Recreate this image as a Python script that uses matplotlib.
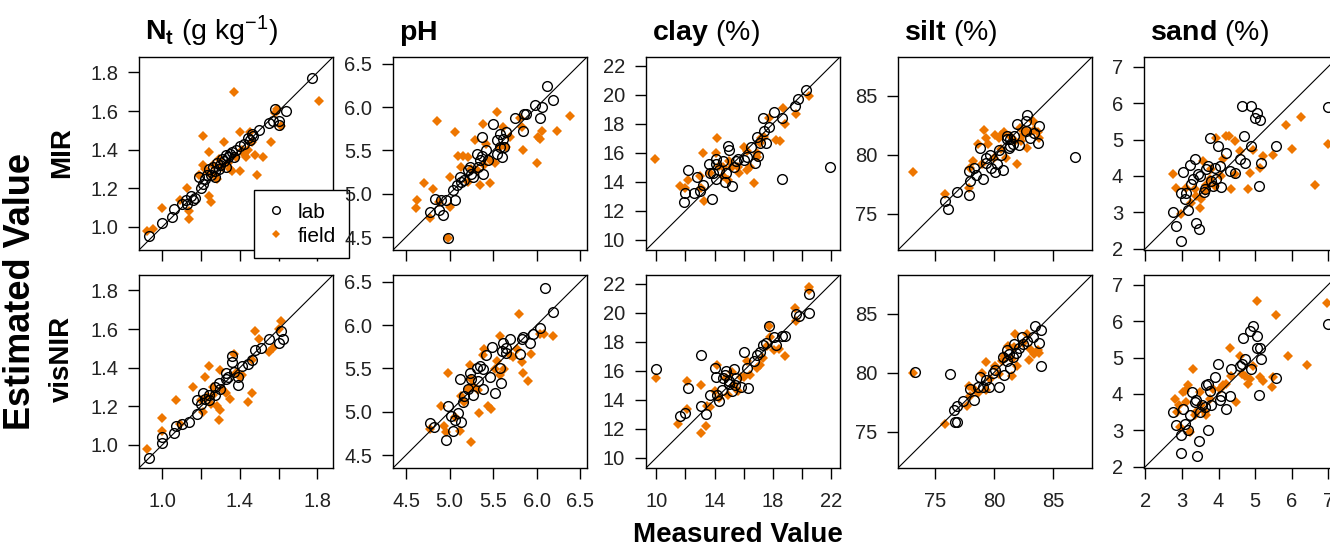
import matplotlib
matplotlib.use("Agg")
import matplotlib.pyplot as plt
from matplotlib.lines import Line2D

plt.rcParams['font.family'] = ['Liberation Sans', 'DejaVu Sans']
plt.rcParams['mathtext.fontset'] = 'custom'
plt.rcParams['mathtext.rm'] = 'Liberation Sans'
plt.rcParams['mathtext.bf'] = 'Liberation Sans:bold'
plt.rcParams['mathtext.it'] = 'Liberation Sans:italic'

ORANGE = '#EE7600'

# ---- data: (measured, estimated) ----
# Nt (g/kg)
nt_mir_lab = [(0.93, 0.95), (1.00, 1.02), (1.05, 1.05), (1.06, 1.09), (1.10, 1.12), (1.12, 1.14),
              (1.13, 1.12), (1.15, 1.16), (1.16, 1.14), (1.17, 1.15), (1.19, 1.26), (1.20, 1.20),
              (1.21, 1.22), (1.22, 1.25), (1.23, 1.27), (1.24, 1.30), (1.25, 1.27), (1.26, 1.31),
              (1.27, 1.29), (1.28, 1.33), (1.29, 1.30), (1.30, 1.32), (1.31, 1.35), (1.32, 1.34),
              (1.33, 1.37), (1.34, 1.36), (1.35, 1.38), (1.36, 1.39), (1.37, 1.36), (1.38, 1.40),
              (1.40, 1.42), (1.42, 1.43), (1.44, 1.46), (1.45, 1.45), (1.46, 1.48), (1.47, 1.47),
              (1.50, 1.50), (1.55, 1.54), (1.57, 1.55), (1.58, 1.61), (1.60, 1.53), (1.60, 1.55),
              (1.64, 1.60), (1.77, 1.77), (1.27, 1.26), (1.33, 1.31)]
nt_mir_field = [(0.92, 0.98), (0.95, 0.99), (1.00, 1.10), (1.09, 1.14), (1.13, 1.20), (1.14, 1.08),
                (1.14, 1.04), (1.21, 1.47), (1.19, 1.27), (1.24, 1.16), (1.25, 1.13), (1.24, 1.39),
                (1.26, 1.32), (1.28, 1.25), (1.29, 1.35), (1.32, 1.44), (1.35, 1.30), (1.37, 1.70),
                (1.36, 1.29), (1.40, 1.29), (1.41, 1.40), (1.40, 1.49), (1.43, 1.36), (1.44, 1.40),
                (1.46, 1.44), (1.48, 1.37), (1.49, 1.27), (1.52, 1.36), (1.56, 1.44), (1.58, 1.59),
                (1.59, 1.61), (1.61, 1.52), (1.81, 1.65), (1.45, 1.49), (1.24, 1.28), (1.21, 1.32),
                (1.31, 1.31), (1.38, 1.36), (1.27, 1.27), (1.22, 1.30), (1.34, 1.33), (1.42, 1.38)]
nt_vis_lab = [(0.93, 0.93), (1.00, 1.01), (1.00, 1.04), (1.06, 1.06), (1.07, 1.10), (1.10, 1.11),
              (1.14, 1.12), (1.18, 1.16), (1.18, 1.23), (1.20, 1.21), (1.21, 1.27), (1.22, 1.24),
              (1.24, 1.26), (1.27, 1.30), (1.29, 1.32), (1.30, 1.29), (1.33, 1.37), (1.34, 1.35),
              (1.36, 1.46), (1.36, 1.43), (1.37, 1.38), (1.39, 1.31), (1.39, 1.35), (1.41, 1.41),
              (1.44, 1.42), (1.46, 1.44), (1.48, 1.49), (1.51, 1.50), (1.55, 1.55), (1.61, 1.59),
              (1.60, 1.53), (1.62, 1.55), (1.24, 1.23), (1.27, 1.26), (1.33, 1.34)]
nt_vis_field = [(0.92, 0.98), (1.00, 1.14), (1.00, 1.07), (1.07, 1.23), (1.09, 1.11), (1.16, 1.30),
                (1.20, 1.23), (1.21, 1.17), (1.22, 1.35), (1.24, 1.41), (1.26, 1.30), (1.28, 1.20),
                (1.29, 1.13), (1.30, 1.18), (1.30, 1.39), (1.33, 1.27), (1.35, 1.24), (1.37, 1.47),
                (1.38, 1.37), (1.40, 1.35), (1.41, 1.36), (1.44, 1.22), (1.46, 1.27), (1.46, 1.44),
                (1.48, 1.59), (1.50, 1.55), (1.55, 1.48), (1.57, 1.50), (1.61, 1.64), (1.60, 1.60),
                (1.23, 1.25), (1.26, 1.26), (1.31, 1.29), (1.25, 1.21)]
# pH
ph_mir_lab = [(4.78, 4.79), (4.83, 4.94), (4.90, 4.93), (4.92, 4.75), (4.88, 4.81), (4.96, 4.93),
              (5.06, 4.93), (4.98, 4.49), (5.08, 5.10), (5.12, 5.19), (5.13, 5.14), (5.17, 5.16),
              (5.21, 5.27), (5.25, 5.23), (5.31, 5.46), (5.33, 5.31), (5.35, 5.39), (5.37, 5.44),
              (5.38, 5.23), (5.42, 5.50), (5.37, 5.65), (5.50, 5.81), (5.54, 5.62), (5.58, 5.69),
              (5.62, 5.63), (5.63, 5.54), (5.65, 5.71), (5.60, 5.42), (5.75, 5.87), (5.85, 5.73),
              (5.88, 5.92), (5.98, 6.02), (6.06, 6.00), (6.04, 5.88), (6.12, 6.25), (6.19, 6.08),
              (5.86, 5.92), (5.58, 5.54), (5.54, 5.46), (5.44, 5.39), (5.27, 5.19), (5.23, 5.31),
              (5.04, 5.04)]
ph_mir_field = [(4.71, 5.12), (4.63, 4.93), (4.61, 4.83), (4.77, 4.72), (4.81, 5.06), (4.86, 5.84),
                (4.88, 4.91), (5.00, 4.85), (5.00, 5.19), (5.06, 5.71), (5.10, 5.44), (5.13, 5.31),
                (5.15, 5.44), (5.21, 5.14), (5.25, 5.29), (5.29, 5.62), (5.35, 5.10), (5.38, 5.81),
                (5.42, 5.58), (5.46, 5.12), (5.46, 5.39), (5.52, 5.35), (5.54, 5.94), (5.58, 5.54),
                (5.62, 5.77), (5.65, 5.54), (5.69, 5.65), (5.81, 5.88), (5.83, 5.77), (5.85, 5.50),
                (6.00, 5.35), (6.02, 5.65), (6.04, 5.63), (6.06, 5.73), (6.23, 5.73), (6.39, 5.90),
                (5.21, 5.42), (4.98, 4.49), (5.31, 5.27), (5.40, 5.33)]
ph_vis_lab = [(4.78, 4.87), (4.82, 4.82), (4.96, 4.67), (4.98, 5.07), (5.02, 4.95), (5.04, 4.78),
              (5.06, 4.90), (5.10, 4.98), (5.12, 5.38), (5.13, 4.88), (5.15, 5.11), (5.17, 5.18),
              (5.21, 5.26), (5.23, 5.45), (5.25, 5.38), (5.27, 5.19), (5.31, 5.51), (5.35, 5.53),
              (5.38, 5.49), (5.42, 5.65), (5.46, 5.40), (5.49, 5.75), (5.52, 5.22), (5.58, 5.51),
              (5.59, 5.33), (5.60, 5.70), (5.62, 5.80), (5.65, 5.74), (5.69, 5.84), (5.83, 5.84),
              (5.84, 5.86), (5.92, 5.80), (5.96, 5.90), (6.04, 5.97), (6.10, 6.43), (6.19, 6.15),
              (5.81, 5.67), (5.65, 5.68), (5.38, 5.26), (5.33, 5.36)]
ph_vis_field = [(4.77, 4.80), (4.90, 5.07), (4.94, 4.84), (4.98, 5.45), (4.96, 4.77), (5.06, 4.94),
                (5.12, 4.78), (5.13, 5.18), (5.17, 5.11), (5.23, 5.54), (5.25, 5.38), (5.27, 5.30),
                (5.33, 5.25), (5.34, 4.99), (5.25, 4.65), (5.38, 5.65), (5.40, 5.72), (5.44, 5.07),
                (5.48, 5.03), (5.54, 5.59), (5.58, 5.88), (5.58, 5.43), (5.63, 5.49), (5.69, 5.66),
                (5.73, 5.63), (5.77, 5.72), (5.80, 6.13), (5.83, 5.57), (5.85, 5.45), (5.90, 5.36),
                (5.94, 5.67), (6.04, 5.90), (6.09, 5.90), (6.19, 5.87), (5.52, 5.49), (5.21, 5.26)]
# clay (%)
clay_mir_lab = [(11.9, 12.6), (12.0, 13.2), (12.2, 14.8), (12.6, 13.2), (12.8, 14.3), (13.0, 13.4),
                (13.2, 13.8), (13.6, 15.2), (13.7, 14.6), (13.8, 12.8), (13.9, 14.6), (14.1, 15.2),
                (14.3, 14.8), (14.6, 15.4), (14.7, 14.0), (14.9, 16.5), (15.0, 16.2), (15.2, 13.7),
                (15.3, 15.0), (15.5, 15.4), (15.6, 15.6), (16.0, 15.5), (16.2, 15.7), (16.5, 16.4),
                (16.8, 15.3), (16.9, 17.1), (17.0, 15.8), (17.1, 16.7), (17.3, 18.4), (17.4, 17.5),
                (17.5, 16.7), (17.7, 17.8), (18.1, 18.8), (18.6, 18.4), (18.6, 14.2), (19.5, 19.2),
                (19.7, 19.7), (20.3, 20.3), (21.9, 15.0), (14.1, 15.6), (14.1, 14.2), (14.8, 14.6)]
clay_mir_field = [(9.9, 15.6), (11.6, 13.7), (12.0, 13.6), (12.2, 14.1), (13.0, 14.4), (13.1, 13.6),
                  (13.3, 12.7), (13.2, 16.0), (13.7, 14.6), (14.1, 16.0), (14.2, 17.0), (14.3, 15.1),
                  (14.6, 15.0), (14.9, 14.1), (15.2, 15.0), (15.7, 14.6), (16.0, 16.4), (16.2, 14.8),
                  (16.4, 15.0), (16.7, 13.9), (16.9, 15.7), (17.1, 16.7), (17.4, 17.1), (17.7, 18.4),
                  (18.2, 16.9), (18.5, 16.8), (18.7, 19.1), (18.8, 18.0), (19.6, 18.7), (20.5, 19.9),
                  (17.2, 17.0), (16.9, 16.0), (15.6, 15.0), (16.2, 16.1), (14.6, 14.4), (15.0, 15.4)]
clay_vis_lab = [(10.0, 16.1), (11.6, 12.9), (12.0, 13.1), (12.2, 14.8), (13.1, 17.1), (13.1, 13.6),
                (13.4, 13.0), (13.7, 14.3), (14.0, 16.2), (14.1, 15.6), (14.2, 14.3), (14.3, 13.9),
                (14.5, 14.7), (14.7, 15.7), (14.8, 16.0), (15.0, 15.3), (15.2, 14.6), (15.3, 16.1),
                (15.4, 15.0), (15.8, 14.9), (16.0, 17.3), (16.3, 14.8), (16.2, 16.2), (16.7, 16.7),
                (16.9, 17.1), (17.1, 17.3), (17.3, 17.8), (17.5, 17.9), (17.7, 19.1), (18.1, 18.3),
                (18.2, 17.8), (18.6, 18.4), (18.8, 18.4), (19.6, 19.9), (19.8, 19.8), (20.5, 20.0),
                (20.5, 21.3), (14.6, 15.5), (15.0, 15.1), (15.5, 15.5)]
clay_vis_field = [(10.0, 15.5), (11.5, 12.3), (12.1, 13.4), (12.1, 15.3), (13.1, 15.0), (13.1, 11.7),
                  (13.4, 12.2), (13.5, 13.6), (13.7, 13.5), (14.0, 14.6), (14.2, 16.4), (14.3, 14.1),
                  (14.8, 15.5), (14.9, 14.3), (15.3, 15.0), (15.6, 14.6), (15.8, 15.6), (16.2, 16.7),
                  (16.4, 15.7), (16.9, 16.2), (17.1, 16.4), (17.3, 16.9), (17.6, 17.7), (17.7, 19.1),
                  (17.8, 18.3), (18.1, 17.4), (18.4, 17.5), (18.8, 17.0), (19.5, 20.3), (19.6, 19.4),
                  (20.5, 21.8), (20.5, 21.6), (15.2, 15.9), (16.0, 15.6)]
# silt (%)
silt_mir_lab = [(75.9, 76.1), (76.1, 75.4), (76.9, 76.8), (77.9, 76.6), (77.9, 78.6), (78.0, 77.8),
                (78.3, 78.9), (78.5, 78.3), (78.8, 80.6), (79.1, 77.9), (79.3, 79.7), (79.7, 80.0),
                (79.8, 78.9), (80.1, 78.5), (80.3, 79.2), (80.6, 80.0), (80.8, 78.7), (81.1, 81.3),
                (81.4, 80.7), (82.0, 82.6), (82.1, 80.8), (82.7, 82.9), (82.8, 83.4), (83.1, 81.4),
                (83.4, 81.8), (83.7, 81.0), (83.8, 82.4), (86.9, 79.8), (81.1, 81.6), (81.4, 81.3),
                (81.7, 81.6), (81.6, 80.9), (81.3, 80.6), (82.7, 82.0), (80.4, 80.4), (79.3, 79.3)]
silt_mir_field = [(73.2, 78.5), (75.9, 76.7), (77.9, 77.2), (78.0, 78.9), (78.2, 79.5), (78.7, 80.9),
                  (79.3, 81.4), (79.2, 82.1), (79.5, 80.9), (80.0, 79.7), (80.1, 81.7), (80.4, 81.4),
                  (80.6, 81.7), (81.0, 79.7), (81.4, 81.6), (82.0, 79.2), (82.3, 81.2), (82.5, 81.7),
                  (82.7, 82.0), (82.8, 80.6), (83.1, 81.9), (83.4, 82.1), (83.7, 81.9), (83.8, 81.4),
                  (83.3, 82.9), (82.2, 82.3), (81.8, 81.2), (80.9, 81.9), (79.0, 79.2), (80.6, 80.5)]
silt_vis_lab = [(73.3, 80.1), (76.3, 79.9), (76.6, 76.8), (76.7, 75.8), (76.9, 75.8), (76.9, 77.2),
                (77.4, 77.6), (78.0, 78.6), (78.3, 77.7), (78.7, 78.8), (78.8, 79.6), (79.1, 78.8),
                (79.3, 79.4), (79.6, 78.8), (79.9, 80.0), (80.1, 80.2), (80.4, 78.8), (80.9, 79.8),
                (81.1, 81.0), (81.3, 81.6), (81.4, 80.4), (81.6, 81.3), (81.7, 82.4), (82.1, 82.1),
                (82.4, 83.0), (82.5, 82.4), (82.8, 82.7), (83.3, 83.0), (83.5, 84.0), (83.8, 82.5),
                (84.0, 83.6), (84.0, 80.6), (81.9, 81.7), (81.1, 81.9), (80.8, 81.3)]
silt_vis_field = [(73.2, 80.0), (75.9, 75.6), (77.7, 77.2), (77.9, 78.9), (78.0, 78.0), (78.3, 78.6),
                  (78.7, 78.3), (79.0, 80.0), (79.3, 80.9), (79.7, 79.5), (80.1, 80.6), (80.4, 79.9),
                  (80.7, 81.0), (80.9, 81.4), (81.2, 82.3), (81.5, 81.2), (81.5, 79.7), (81.7, 82.2),
                  (81.8, 83.3), (82.0, 80.6), (82.5, 82.5), (82.8, 83.3), (83.0, 81.1), (83.1, 82.0),
                  (83.4, 81.6), (83.7, 81.9), (83.8, 81.7), (79.3, 78.5)]
# sand (%)
sand_mir_lab = [(2.75, 3.00), (2.84, 2.62), (2.96, 2.21), (2.98, 3.53), (3.03, 4.10), (3.07, 3.35),
                (3.16, 3.06), (3.21, 4.31), (3.30, 3.90), (3.35, 4.45), (3.39, 2.71), (3.47, 2.53),
                (3.50, 4.00), (3.59, 3.55), (3.63, 3.64), (3.70, 4.27), (3.76, 5.04), (3.80, 3.86),
                (3.90, 4.22), (3.99, 4.81), (4.04, 4.27), (4.08, 3.68), (4.20, 4.63), (4.31, 4.13),
                (4.45, 4.09), (4.58, 4.45), (4.65, 5.91), (4.72, 4.36), (4.69, 5.09), (4.90, 5.91),
                (4.90, 4.81), (4.99, 5.59), (5.04, 5.73), (5.13, 5.54), (5.11, 3.72), (5.17, 4.36),
                (5.57, 4.81), (7.00, 5.89), (3.12, 3.53), (3.26, 3.77), (3.44, 4.04), (3.67, 4.18),
                (3.85, 3.73), (3.94, 3.91)]
sand_mir_field = [(2.75, 4.04), (2.83, 3.67), (2.98, 2.94), (3.12, 3.67), (3.26, 3.26), (3.35, 3.63),
                  (3.39, 3.44), (3.48, 3.12), (3.53, 3.35), (3.62, 3.58), (3.67, 3.76), (3.76, 3.90),
                  (3.90, 3.72), (3.94, 5.04), (4.08, 4.00), (4.21, 5.09), (4.30, 5.09), (4.35, 3.63),
                  (4.44, 4.95), (4.44, 4.04), (4.58, 4.68), (4.81, 3.63), (4.86, 4.09), (4.95, 4.72),
                  (5.13, 4.22), (5.22, 4.54), (5.49, 4.58), (5.86, 5.41), (6.00, 4.75), (6.27, 5.62),
                  (6.63, 3.74), (7.00, 4.89), (3.58, 4.40), (3.80, 4.20), (4.12, 4.45)]
sand_vis_lab = [(2.75, 3.50), (2.83, 3.14), (2.96, 2.36), (2.98, 2.86), (3.03, 3.59), (3.07, 3.18),
                (3.16, 3.00), (3.21, 3.41), (3.28, 4.05), (3.35, 3.77), (3.39, 3.82), (3.46, 2.70),
                (3.41, 2.30), (3.48, 3.50), (3.56, 3.68), (3.67, 4.23), (3.71, 3.00), (3.71, 4.27),
                (3.76, 4.09), (3.80, 3.68), (3.90, 4.45), (3.99, 4.82), (4.04, 3.82), (4.08, 3.95),
                (4.20, 3.59), (4.31, 3.95), (4.35, 4.68), (4.58, 4.77), (4.63, 4.82), (4.72, 4.95),
                (4.67, 5.55), (4.86, 5.73), (4.93, 5.88), (4.90, 4.68), (5.04, 5.27), (5.13, 5.25),
                (5.17, 4.95), (5.06, 5.59), (5.11, 3.97), (5.57, 4.44), (7.00, 5.91), (3.62, 3.64)]
sand_vis_field = [(2.80, 3.86), (2.85, 3.50), (2.92, 3.68), (2.94, 3.09), (3.03, 4.05), (3.07, 4.09),
                  (3.12, 3.77), (3.16, 4.23), (3.21, 2.95), (3.30, 4.68), (3.35, 3.41), (3.39, 3.50),
                  (3.48, 4.05), (3.53, 3.68), (3.62, 3.50), (3.65, 3.41), (3.76, 3.86), (3.85, 4.14),
                  (4.04, 4.14), (4.12, 4.23), (4.21, 4.27), (4.31, 5.27), (4.35, 4.50), (4.49, 3.77),
                  (4.58, 5.05), (4.63, 4.55), (4.72, 4.50), (4.81, 4.27), (4.86, 4.41), (4.95, 4.77),
                  (5.04, 6.55), (5.13, 4.45), (5.22, 4.36), (5.45, 4.18), (5.49, 4.45), (5.58, 6.18),
                  (5.90, 5.05), (6.41, 4.79), (6.97, 6.50)]

props = ['Nt', 'pH', 'clay', 'silt', 'sand']
titles = [r'$\mathbf{N_t}$ (g kg$^{-1}$)', r'$\mathbf{pH}$', r'$\mathbf{clay}$ (%)',
          r'$\mathbf{silt}$ (%)', r'$\mathbf{sand}$ (%)']
limits = [(0.88, 1.88), (4.35, 6.58), (9.3, 22.6), (71.9, 88.3), (1.96, 7.27)]
ticks = [[1.0, 1.2, 1.4, 1.6, 1.8], [4.5, 5.0, 5.5, 6.0, 6.5], [10, 12, 14, 16, 18, 20, 22],
         [75, 80, 85], [2, 3, 4, 5, 6, 7]]
xlabels = [['1.0', '', '1.4', '', '1.8'], ['4.5', '5.0', '5.5', '6.0', '6.5'],
           ['10', '', '14', '', '18', '', '22'], ['75', '80', '85'], ['2', '3', '4', '5', '6', '7']]
ylabels = [['1.0', '1.2', '1.4', '1.6', '1.8'], ['4.5', '5.0', '5.5', '6.0', '6.5'],
           ['10', '12', '14', '16', '18', '20', '22'], ['75', '80', '85'], ['2', '3', '4', '5', '6', '7']]
data = {
    'MIR': [(nt_mir_lab, nt_mir_field), (ph_mir_lab, ph_mir_field), (clay_mir_lab, clay_mir_field),
            (silt_mir_lab, silt_mir_field), (sand_mir_lab, sand_mir_field)],
    'visNIR': [(nt_vis_lab, nt_vis_field), (ph_vis_lab, ph_vis_field), (clay_vis_lab, clay_vis_field),
               (silt_vis_lab, silt_vis_field), (sand_vis_lab, sand_vis_field)],
}

W, H = 1330, 547
fig = plt.figure(figsize=(W / 100, H / 100), dpi=100)

lefts = [139, 393, 646, 898, 1144]
tops = [57, 275]
pw, ph = 194, 193

for r, sensor in enumerate(['MIR', 'visNIR']):
    for c in range(5):
        ax = fig.add_axes([lefts[c] / W, 1 - (tops[r] + ph) / H, pw / W, ph / H])
        lab, field = data[sensor][c]
        ax.plot([p[0] for p in field], [p[1] for p in field], 'D', ms=5, color=ORANGE, mew=0)
        ax.plot([p[0] for p in lab], [p[1] for p in lab], 'o', ms=7, mfc='none', mec='black', mew=1.0)
        ax.axline((limits[c][0], limits[c][0]), slope=1, color='black', lw=0.8)
        ax.set_xlim(limits[c])
        ax.set_ylim(limits[c])
        ax.set_xticks(ticks[c])
        ax.set_yticks(ticks[c])
        ax.set_yticklabels(ylabels[c])
        if r == 1:
            ax.set_xticklabels(xlabels[c])
        ax.tick_params(axis='both', direction='out', length=8, width=1, labelsize=14.5,
                       colors='black', labelcolor='#222222')
        ax.tick_params(axis='x', pad=9, labelbottom=(r == 1))
        ax.tick_params(axis='y', pad=7)
        for s in ax.spines.values():
            s.set_linewidth(1.0)
        if r == 0:
            fig.text((lefts[c] + 6) / W, 1 - 40 / H, titles[c], fontsize=20.5, va='baseline', ha='left')
        if r == 0 and c == 0:
            handles = [Line2D([], [], ls='none', marker='o', ms=5.5, mfc='none', mec='black', mew=1.0),
                       Line2D([], [], ls='none', marker='D', ms=4.5, color=ORANGE, mew=0)]
            leg = ax.legend(handles, ['lab', 'field'], loc='upper left',
                            bbox_to_anchor=(254 / W, 1 - 190 / H), bbox_transform=fig.transFigure,
                            borderaxespad=0, fontsize=15, frameon=True, fancybox=False,
                            edgecolor='black', framealpha=1, handlelength=0.9, handletextpad=0.6,
                            borderpad=0.6, labelspacing=0.25)
            leg.get_frame().set_linewidth(1.0)

fig.text(21 / W, 1 - 292 / H, 'Estimated Value', rotation=90, fontsize=26, fontweight='bold',
         ha='center', va='center')
fig.text(62 / W, 1 - 153 / H, 'MIR', rotation=90, fontsize=20, fontweight='bold',
         ha='center', va='center')
fig.text(62 / W, 1 - 359 / H, 'visNIR', rotation=90, fontsize=20, fontweight='bold',
         ha='center', va='center')
fig.text(738 / W, 1 - 542 / H, 'Measured Value', fontsize=20, fontweight='bold',
         ha='center', va='baseline')

fig.savefig('out.png', dpi=100)
